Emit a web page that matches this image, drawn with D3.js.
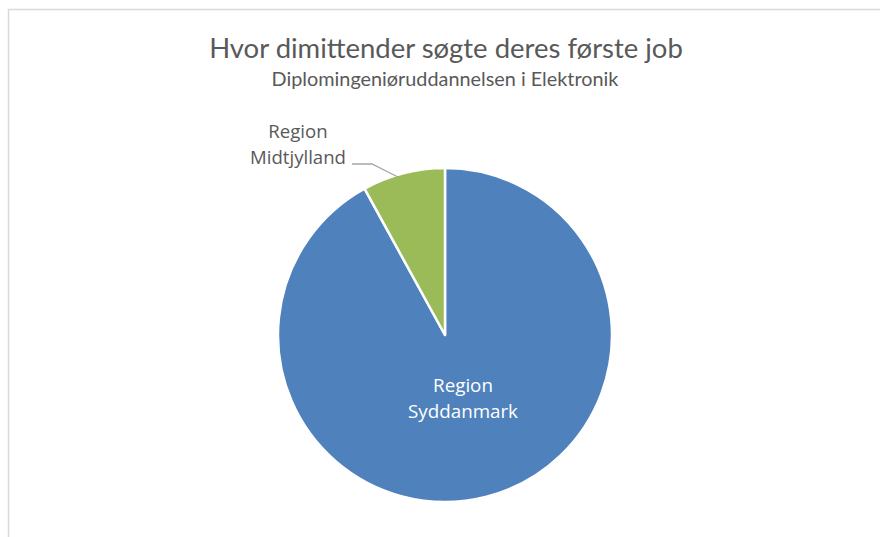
<!DOCTYPE html>
<html><head><meta charset="utf-8">
<script src="https://cdn.jsdelivr.net/npm/d3@7"></script>
<style>body{margin:0;background:#fff}svg{display:block}</style>
</head><body><svg id="c" width="880" height="537"></svg>
<script>
const categories = ["Region Syddanmark", "Region Midtjylland"];
const values = [92, 8];
const colors = ["#4f81bd", "#9bbb59"];
const title = "Hvor dimittender søgte deres første job";
const subtitle = "Diplomingeniøruddannelsen i Elektronik";

const svg = d3.select("#c");
const FONT = "Lato, 'Open Sans', sans-serif";
const LFONT = "'Open Sans', Lato, sans-serif";
svg.append("rect").attr("x",8.5).attr("y",9.5).attr("width",900).attr("height",600)
  .attr("fill","#fff").attr("stroke","#d9d9d9").attr("stroke-width",1.5);

function fitText(sel, w){ const n=sel.node(); const l=n.getComputedTextLength(); const fs=parseFloat(sel.attr("font-size")); sel.attr("font-size", fs*w/l); }

const t = svg.append("text").attr("x",446).attr("y",58).attr("text-anchor","middle")
  .attr("font-family",FONT).attr("font-size",24).attr("fill","#595959").text(title);
fitText(t, 474);
const st = svg.append("text").attr("x",445).attr("y",86).attr("text-anchor","middle")
  .attr("font-family",FONT).attr("font-size",16).attr("fill","#595959").text(subtitle);
fitText(st, 347);

const cx=445, cy=335, r=167;
const pie = d3.pie().sort(null).value(d=>d.v);
const data = pie(categories.map((c,i)=>({c, v:values[i], col:colors[i]})));
const arc = d3.arc().innerRadius(0).outerRadius(r);
const g = svg.append("g").attr("transform",`translate(${cx},${cy})`);
g.selectAll("path").data(data).join("path").attr("d",arc)
  .attr("fill",d=>d.data.col).attr("stroke","#fff").attr("stroke-width",2.5).attr("stroke-linejoin","round");

// label for large slice (inside)
const big = data[0];
const lab = g.append("text").attr("text-anchor","middle").attr("font-family",LFONT)
  .attr("font-size",17).attr("fill","#fff")
  .attr("transform",`translate(${18},${57})`);
const parts0 = big.data.c.split(" ");
lab.append("tspan").attr("x",0).attr("y",0).text(parts0[0]);
const s2 = lab.append("tspan").attr("x",0).attr("y",26).text(parts0[1]);
{ const l = s2.node().getComputedTextLength(); lab.attr("font-size", 17*110/l); }

// outside label for small slice
const small = data[1];
const outer = d3.arc().innerRadius(r).outerRadius(r);
const p0 = outer.centroid(small);
const lab2 = svg.append("text").attr("text-anchor","middle").attr("font-family",LFONT)
  .attr("font-size",17).attr("fill","#595959");
const parts1 = small.data.c.split(" ");
lab2.append("tspan").attr("x",298).attr("y",138).text(parts1[0]);
const s3 = lab2.append("tspan").attr("x",298).attr("y",164).text(parts1[1]);
{ const l = s3.node().getComputedTextLength(); lab2.attr("font-size", 17*96/l); }
svg.append("polyline").attr("points",`352,164 372,164 ${cx+p0[0]-5},${cy+p0[1]+4}`)
  .attr("fill","none").attr("stroke","#a6a6a6").attr("stroke-width",1.3);
</script></body></html>
